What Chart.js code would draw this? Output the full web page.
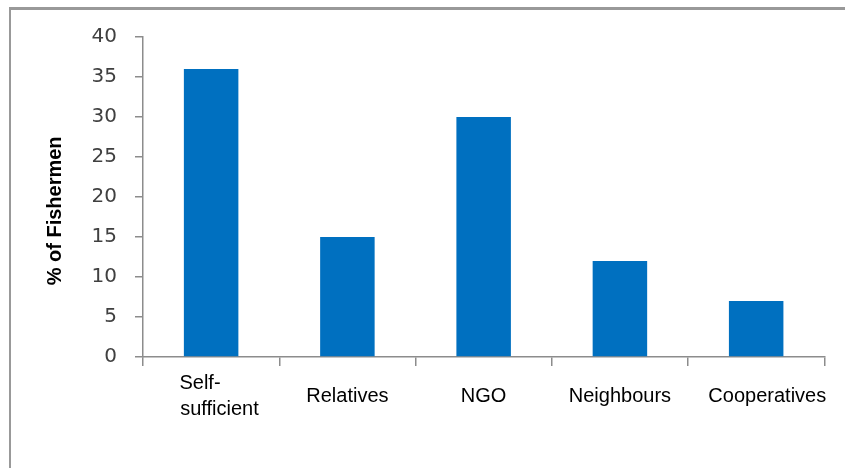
<!DOCTYPE html>
<html>
<head>
<meta charset="utf-8">
<script src="https://cdn.jsdelivr.net/npm/chart.js@4"></script>
<style>
  html, body { margin: 0; padding: 0; background: #fff; }
  #wrap { position: relative; width: 845px; height: 468px; }
  #frame {
    position: absolute; left: 9px; top: 7px; right: -10px; bottom: -10px;
    border-top: 3px solid #999; border-left: 2px solid #999;
    pointer-events: none;
  }
</style>
</head>
<body>
<div id="wrap">
  <canvas id="chart" width="845" height="468"></canvas>
  <div id="frame"></div>
</div>
<script>
// chart data
const categories = [['Self-    ', '   sufficient'], 'Relatives', 'NGO', 'Neighbours', '    Cooperatives'];
const fishermenPct = [36, 15, 30, 12, 7];
const yTicks = [0, 5, 10, 15, 20, 25, 30, 35, 40];

const axisGrey = '#8c8c8c';

const ctx = document.getElementById('chart').getContext('2d');
window.fishermenChart = new Chart(ctx, {
  type: 'bar',
  data: {
    labels: categories,
    datasets: [{
      label: '% of Fishermen',
      data: fishermenPct,
      backgroundColor: '#0070C0',
      borderWidth: 0,
      barPercentage: 0.4,
      categoryPercentage: 1
    }]
  },
  options: {
    responsive: false,
    animation: false,
    layout: {
      padding: { top: 37, right: 18, bottom: 0, left: 0 }
    },
    plugins: {
      legend: { display: false },
      tooltip: { enabled: false }
    },
    scales: {
      x: {
        grid: {
          display: true,
          drawOnChartArea: false,
          drawTicks: true,
          tickLength: 9,
          color: axisGrey,
          lineWidth: 1.5
        },
        border: { display: true, color: axisGrey, width: 1.5 },
        ticks: {
          color: '#000',
          autoSkip: false,
          maxRotation: 0,
          minRotation: 0,
          padding: 17,
          crossAlign: 'center',
          font: { family: '"Liberation Sans", Arial, sans-serif', size: 20, lineHeight: 1.3 }
        },
        afterFit: (scale) => { scale.height = 111; }
      },
      y: {
        min: 0,
        max: 40,
        afterBuildTicks: (scale) => {
          scale.ticks = yTicks.map(v => ({ value: v }));
        },
        grid: {
          display: true,
          drawOnChartArea: false,
          drawTicks: true,
          tickLength: 8,
          color: axisGrey,
          lineWidth: 1.5
        },
        border: { display: true, color: axisGrey, width: 1.5 },
        ticks: {
          color: '#404040',
          padding: 18,
          font: { family: '"DejaVu Sans", sans-serif', size: 20 }
        },
        title: {
          display: true,
          text: '% of Fishermen     ',
          color: '#000',
          padding: { top: 43, bottom: 0 },
          font: { family: '"Liberation Sans", Arial, sans-serif', size: 20, weight: 'bold', lineHeight: 1.2 }
        },
        afterFit: (scale) => { scale.width = 143; }
      }
    }
  }
});
</script>
</body>
</html>
